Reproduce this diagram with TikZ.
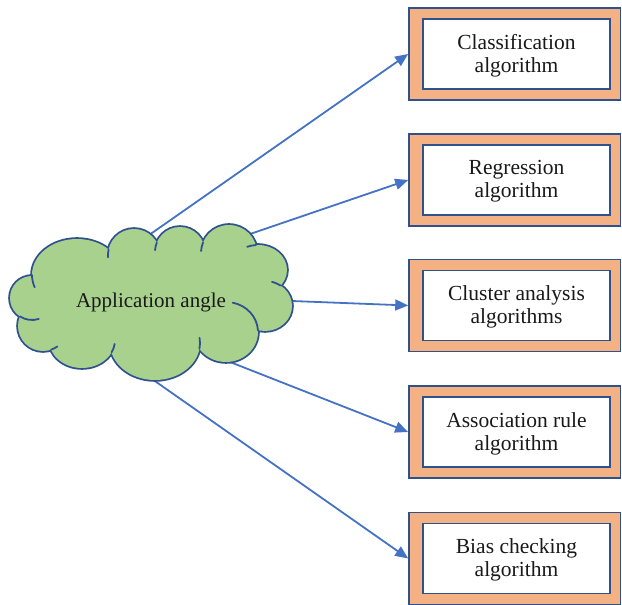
\documentclass[tikz,border=0pt]{standalone}
\usepackage{fontspec}
\setmainfont{Liberation Serif}
\usetikzlibrary{arrows.meta}
\definecolor{boxorange}{HTML}{F4B183}
\definecolor{edgeblue}{HTML}{2F528F}
\definecolor{arrowblue}{HTML}{4472C4}
\definecolor{cloudgreen}{HTML}{A9D18E}
\tikzset{
  outerbox/.style={draw=edgeblue, line width=1.6pt, fill=boxorange,
    minimum width=211.5pt, minimum height=92pt, inner sep=0pt},
  innerbox/.style={draw=edgeblue, line width=1.6pt, fill=white,
    minimum width=187pt, minimum height=70pt, inner sep=0pt},
  boxtext/.style={inner sep=0pt, align=center,
    font=\fontsize{21.5}{23}\selectfont, text=black!90},
  link/.style={draw=arrowblue, line width=1.8pt, -{Triangle[length=13pt,width=11pt]}},
  cloudedge/.style={draw=edgeblue, line width=3.6pt},
  cloudstub/.style={draw=edgeblue, line width=1.8pt, line cap=round},
  cloudtext/.style={font=\fontsize{21}{22}\selectfont, text=black!90, inner sep=0pt}
}
\begin{document}
\begin{tikzpicture}[x=1pt,y=1pt]
\useasboundingbox (0,0) rectangle (622,605);
% boxes
\foreach \n/\yy/\txt in {1/551/{Classification\\algorithm},
                         2/425/{Regression\\algorithm},
                         3/299.5/{Cluster analysis\\algorithms},
                         4/173/{Association rule\\algorithm},
                         5/46.5/{Bias checking\\algorithm}}{
  \node[outerbox] (o\n) at (514.75,\yy) {};
  \node[innerbox] (i\n) at (516.5,\yy) {};
  \node[boxtext] (t\n) at ([yshift=-1.5pt]i\n.center) {\txt};
}
% arrow starts inside the cloud
\coordinate (s1) at (145.4,367.4);
\coordinate (s2) at (245.4,369.4);
\coordinate (s3) at (284,304.3);
\coordinate (s4) at (217.5,247.9);
\coordinate (s5) at (145.4,230.6);
\foreach \k in {1,...,5}{\draw[link] (s\k) -- (o\k.west);}
% cloud: union of ellipses
\def\cloudparts{32/307/22/22, 43/279/25/25, 82/265/33/28, 155/262/45/37,
  226/273/32/30, 265/299/27/25, 258/335/29/25, 229/352/28/28,
  180/353/25/25, 134/350/26/26, 77/330/45/36}
\foreach \cx/\cy/\rx/\ry in \cloudparts{
  \draw[cloudedge] (\cx,\cy) ellipse [x radius=\rx, y radius=\ry];}
\foreach \cx/\cy/\rx/\ry in \cloudparts{
  \fill[cloudgreen] (\cx,\cy) ellipse [x radius=\rx, y radius=\ry];}
\fill[cloudgreen] (39,329) -- (110,349) -- (157,356) -- (202,356) -- (252,354)
  -- (274,318) -- (252,276) -- (196,261) -- (113,258) -- (56,260) -- (26,290) -- cycle;
% inner arcs of the cloud
\foreach \cx/\cy/\rx/\ry/\a/\b in {77/330/45/36/180/200, 134/350/26/26/168/185,
  180/353/25/25/158/176, 229/352/28/28/158/176, 258/335/29/25/94/112,
  265/299/27/25/55/75, 226/273/32/30/3/78, 155/262/45/37/-9/8,
  82/265/33/28/-26/-8, 43/279/25/25/-71/-55, 32/307/22/22/-123/-72}{
  \draw[cloudstub] (\cx,\cy) ++(\a:\rx pt and \ry pt)
    arc[start angle=\a, end angle=\b, x radius=\rx, y radius=\ry];}
\node[cloudtext, anchor=base] (c) at (151,297) {Application angle};
\end{tikzpicture}
\end{document}
